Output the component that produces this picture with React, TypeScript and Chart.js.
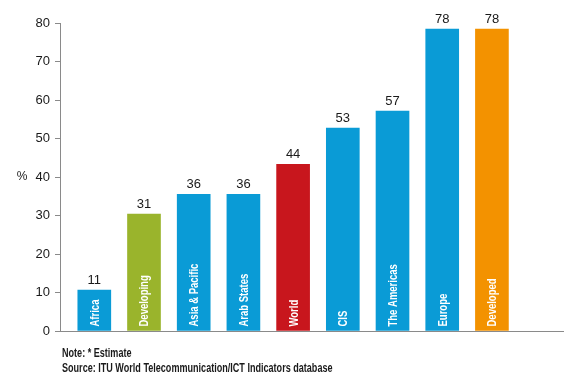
import React, { useEffect, useRef } from "react";
import { Chart, registerables } from "chart.js";

Chart.register(...registerables);

const categories = ["Africa", "Developing", "Asia & Pacific", "Arab States", "World", "CIS", "The Americas", "Europe", "Developed"];
const values = [10.6, 30.4, 35.5, 35.5, 43.3, 52.7, 57.1, 78.4, 78.4];
const valueLabels = ["11", "31", "36", "36", "44", "53", "57", "78", "78"];
const barColors = ["#0a9bd6", "#9ab42c", "#0a9bd6", "#0a9bd6", "#c8161d", "#0a9bd6", "#0a9bd6", "#0a9bd6", "#f39200"];
const yMax = 80;
const yStep = 10;
const notes = ["Note: * Estimate", "Source: ITU World Telecommunication/ICT Indicators database"];
const yTitle = "%";

const FONT = "'Liberation Sans', Arial, sans-serif";

function condensedText(ctx: CanvasRenderingContext2D, text: string, x: number, y: number, factor: number) {
  ctx.save();
  ctx.translate(x, y);
  ctx.scale(factor, 1);
  ctx.fillText(text, 0, 0);
  ctx.restore();
}

const labelPlugin = {
  id: "labels",
  afterDatasetsDraw(chart: any) {
    const ctx: CanvasRenderingContext2D = chart.ctx;
    const meta = chart.getDatasetMeta(0);
    const area = chart.chartArea;
    meta.data.forEach((bar: any, i: number) => {
      ctx.save();
      ctx.fillStyle = "#1a1a1a";
      ctx.font = `13px ${FONT}`;
      ctx.textAlign = "center";
      ctx.textBaseline = "alphabetic";
      ctx.fillText(valueLabels[i], bar.x, bar.y - 6);
      ctx.restore();
      ctx.save();
      ctx.translate(bar.x, bar.base - 4);
      ctx.rotate(-Math.PI / 2);
      ctx.scale(0.76, 1);
      ctx.fillStyle = "#ffffff";
      ctx.font = `bold 12.5px ${FONT}`;
      ctx.textAlign = "left";
      ctx.textBaseline = "middle";
      ctx.fillText(categories[i], 0, 1);
      ctx.restore();
    });
    ctx.save();
    ctx.fillStyle = "#1a1a1a";
    ctx.font = `12px ${FONT}`;
    ctx.textAlign = "center";
    ctx.textBaseline = "middle";
    ctx.fillText(yTitle, 22, (area.top + area.bottom) / 2);
    ctx.restore();
    ctx.save();
    ctx.fillStyle = "#1a1a1a";
    ctx.font = `bold 12px ${FONT}`;
    ctx.textAlign = "left";
    ctx.textBaseline = "alphabetic";
    notes.forEach((n, k) => {
      condensedText(ctx, n, area.left + 2, area.bottom + 26 + k * 14.5, 0.755);
    });
    ctx.restore();
  },
};

export default function App() {
  const ref = useRef<HTMLCanvasElement | null>(null);
  useEffect(() => {
    document.body.style.margin = "0";
    const canvas = ref.current!;
    const chart = new Chart(canvas, {
      type: "bar",
      data: {
        datasets: [
          {
            data: values.map((v, i) => ({ x: i + 1, y: v })),
            backgroundColor: barColors,
            borderWidth: 0,
            barThickness: 33,
          },
        ],
      },
      options: {
        responsive: false,
        animation: false,
        layout: { padding: { top: 23, right: 11, left: 0, bottom: 0 } },
        plugins: { legend: { display: false }, tooltip: { enabled: false }, title: { display: false } },
        scales: {
          x: {
            type: "linear",
            offset: false,
            min: 0.31,
            max: 10.43,
            grid: { display: false, offset: false },
            ticks: { display: false },
            border: { display: true, color: "#8a8a8a", width: 1 },
            afterFit: (s: any) => {
              s.height = 50;
            },
          },
          y: {
            min: 0,
            max: yMax,
            ticks: { stepSize: yStep, color: "#1a1a1a", font: { family: FONT, size: 13 }, padding: 5 },
            grid: { drawOnChartArea: false, drawTicks: true, tickLength: 5, color: "#8a8a8a" },
            border: { display: true, color: "#8a8a8a", width: 1 },
            afterFit: (s: any) => {
              s.width = 60;
            },
          },
        },
      },
      plugins: [labelPlugin],
    } as any);
    return () => chart.destroy();
  }, []);
  return (
    <div style={{ position: "absolute", left: 0, top: 0, width: 574, height: 381, background: "#fff" }}>
      <canvas ref={ref} width={574} height={381} />
    </div>
  );
}
